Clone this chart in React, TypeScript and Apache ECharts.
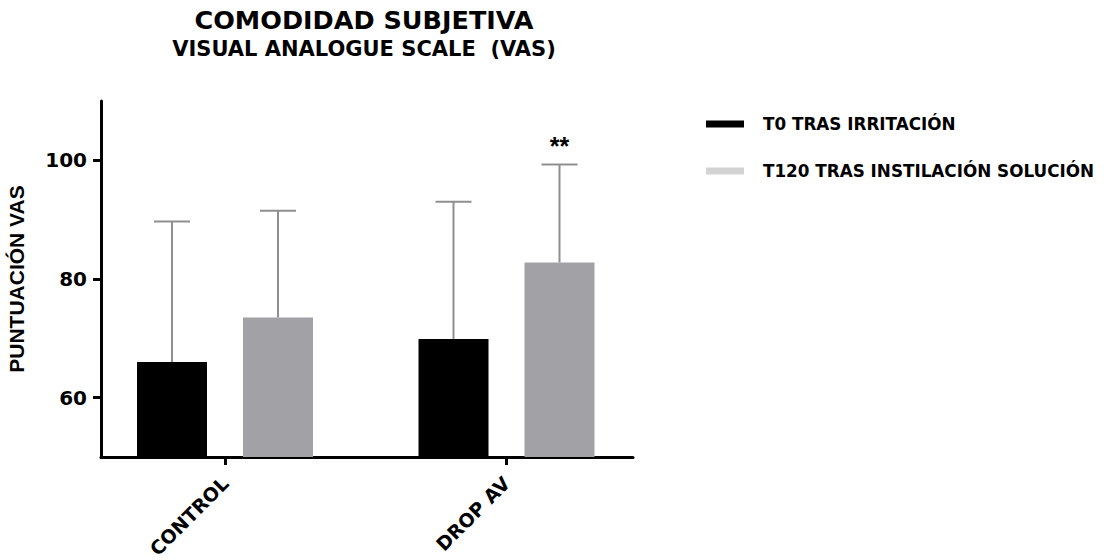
import React, { useEffect, useRef } from 'react';
import * as echarts from 'echarts';

// Groups on the x axis
const categories = ['CONTROL', 'DROP AV'];
// Series names (legend)
const seriesNames = ['T0 TRAS IRRITACIÓN', 'T120 TRAS INSTILACIÓN SOLUCIÓN'];
// Mean VAS score per group
const t0Mean = [66.0, 69.9];
const t120Mean = [73.5, 82.8];
// Mean + SD (top of the error bar)
const t0Upper = [89.7, 93.0];
const t120Upper = [91.5, 99.3];
// Significance marks drawn above the error bars
const t0Sig = ['', ''];
const t120Sig = ['', '**'];
// Y axis range and labelled ticks
const yMin = 50;
const yMax = 110;
const yTicks = [60, 80, 100];

const BAR_W = 70;
const BAR_GAP = 36;
const CAP_W = 36;
const FONT = 'DejaVu Sans, Verdana, sans-serif';
const FONT_NARROW = 'Liberation Sans, Arial, sans-serif';

export default function App() {
  const ref = useRef<HTMLDivElement>(null);

  useEffect(() => {
    if (!ref.current) return;
    const chart = echarts.init(ref.current, null, { renderer: 'svg' });

    // error-bar rows: [categoryIndex, mean, upper, seriesIndex]
    const errRows: number[][] = [];
    const errSig: string[] = [];
    categories.forEach((_, i) => {
      errRows.push([i, t0Mean[i], t0Upper[i], 0]);
      errSig.push(t0Sig[i]);
      errRows.push([i, t120Mean[i], t120Upper[i], 1]);
      errSig.push(t120Sig[i]);
    });

    const option: any = {
      animation: false,
      backgroundColor: '#ffffff',
      title: {
        text: 'COMODIDAD SUBJETIVA',
        subtext: 'VISUAL ANALOGUE SCALE  (VAS)',
        left: 364,
        top: 7,
        textAlign: 'center',
        padding: 0,
        itemGap: 5,
        textStyle: { fontFamily: FONT, fontSize: 25.5, fontWeight: 'bold', color: '#000' },
        subtextStyle: { fontFamily: FONT, fontSize: 21, fontWeight: 'bold', color: '#000' },
      },
      legend: {
        orient: 'vertical',
        left: 701,
        top: 109,
        itemWidth: 38,
        itemHeight: 7,
        itemGap: 27,
        icon: 'rect',
        selectedMode: false,
        textStyle: {
          fontFamily: FONT,
          fontSize: 16.8,
          fontWeight: 'bold',
          color: '#000',
          lineHeight: 20,
          padding: [0, 0, 0, 14],
        },
        data: [
          { name: seriesNames[0], itemStyle: { color: '#000000' } },
          { name: seriesNames[1], itemStyle: { color: '#d3d3d3' } },
        ],
      },
      grid: [
        // bars
        { left: 84.25, top: 101, width: 563, height: 356, outerBoundsMode: 'none', containLabel: false },
        // visible axis frame
        { left: 101, top: 101, width: 532, height: 356, outerBoundsMode: 'none', containLabel: false },
      ],
      xAxis: [
        {
          type: 'category',
          gridIndex: 0,
          data: categories,
          axisLine: { show: false },
          axisTick: { show: true, alignWithLabel: true, length: 8, lineStyle: { color: '#000', width: 3 } },
          axisLabel: {
            rotate: 45,
            margin: 23,
            fontFamily: FONT,
            fontSize: 19,
            fontWeight: 'bold',
            color: '#000',
          },
          splitLine: { show: false },
        },
        {
          type: 'value',
          gridIndex: 1,
          min: 0,
          max: 1,
          axisLine: { show: true, onZero: false, lineStyle: { color: '#000', width: 3 } },
          axisTick: { show: false },
          axisLabel: { show: false },
          splitLine: { show: false },
        },
      ],
      yAxis: [
        {
          type: 'value',
          gridIndex: 0,
          min: yMin,
          max: yMax,
          show: false,
        },
        {
          type: 'value',
          gridIndex: 1,
          min: yMin,
          max: yMax,
          name: 'PUNTUACIÓN VAS',
          nameLocation: 'middle',
          nameRotate: 90,
          nameGap: 74,
          nameTextStyle: { fontFamily: FONT_NARROW, fontSize: 21, fontWeight: 'bold', color: '#000' },
          axisLine: { show: true, onZero: false, lineStyle: { color: '#000', width: 3 } },
          axisTick: { show: true, length: 8, customValues: yTicks, lineStyle: { color: '#000', width: 3 } },
          axisLabel: {
            customValues: yTicks,
            margin: 14,
            fontFamily: FONT,
            fontSize: 20,
            fontWeight: 'bold',
            color: '#000',
          },
          splitLine: { show: false },
        },
      ],
      series: [
        {
          name: seriesNames[0],
          type: 'bar',
          xAxisIndex: 0,
          yAxisIndex: 0,
          data: t0Mean,
          barWidth: BAR_W,
          barGap: `${(BAR_GAP / BAR_W) * 100}%`,
          itemStyle: { color: '#000000' },
        },
        {
          name: seriesNames[1],
          type: 'bar',
          xAxisIndex: 0,
          yAxisIndex: 0,
          data: t120Mean,
          barWidth: BAR_W,
          barGap: `${(BAR_GAP / BAR_W) * 100}%`,
          itemStyle: { color: '#a2a2a6' },
        },
        {
          name: 'SD',
          type: 'custom',
          xAxisIndex: 0,
          yAxisIndex: 0,
          z: 5,
          encode: { x: 0, y: [1, 2] },
          data: errRows,
          renderItem: (params: any, api: any) => {
            const cat = api.value(0);
            const mean = api.value(1);
            const up = api.value(2);
            const s = api.value(3);
            const base = api.coord([cat, mean]);
            const top = api.coord([cat, up]);
            const x = base[0] + (s === 0 ? -1 : 1) * (BAR_W + BAR_GAP) / 2;
            const stroke = { stroke: '#8f8f8f', lineWidth: 2 };
            const children: any[] = [
              { type: 'line', shape: { x1: x, y1: base[1], x2: x, y2: top[1] }, style: stroke },
              { type: 'line', shape: { x1: x - CAP_W / 2, y1: top[1], x2: x + CAP_W / 2, y2: top[1] }, style: stroke },
            ];
            const sig = errSig[params.dataIndex];
            if (sig) {
              children.push({
                type: 'text',
                x: x,
                y: top[1] - 6,
                style: {
                  text: sig,
                  fontFamily: FONT_NARROW,
                  fontSize: 25,
                  fontWeight: 'bold',
                  fill: '#000',
                  align: 'center',
                  verticalAlign: 'bottom',
                },
              });
            }
            return { type: 'group', children };
          },
        },
      ],
    };

    chart.setOption(option);
    return () => chart.dispose();
  }, []);

  return (
    <div
      ref={ref}
      style={{ position: 'fixed', left: 0, top: 0, width: 1115, height: 560, background: '#fff' }}
    />
  );
}
